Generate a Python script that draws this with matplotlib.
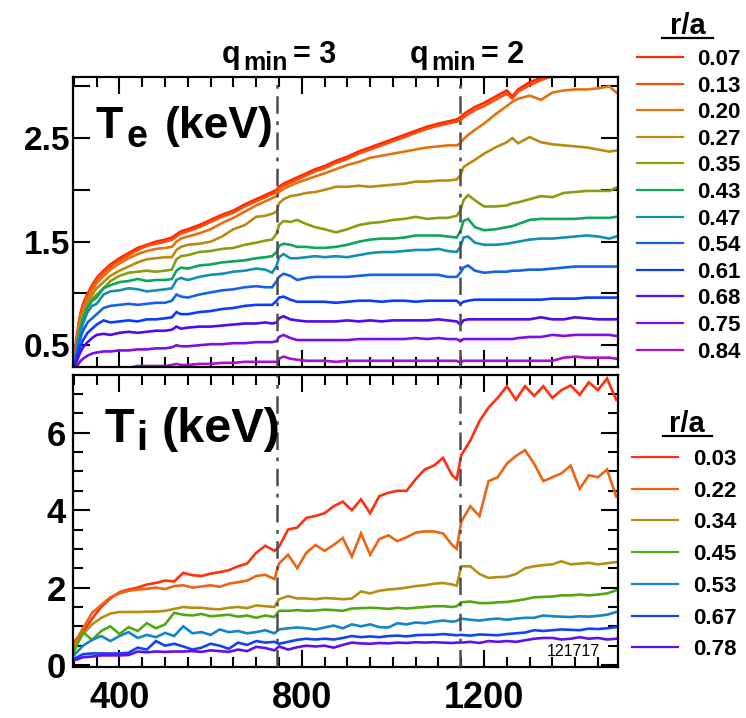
import numpy as np
import matplotlib.pyplot as plt
from matplotlib.lines import Line2D
from matplotlib.ticker import MultipleLocator, FixedLocator, FixedFormatter

plt.rcParams['font.family'] = ['Liberation Sans', 'DejaVu Sans']
plt.rcParams['font.weight'] = 'bold'

W, H = 746, 718

# ---- electron temperature (keV) vs time (ms) ----
t_te = [300, 305, 310, 315, 320, 330, 340, 350, 365, 380,
        400, 420, 440, 460, 480, 500, 515, 525, 535, 550,
        575, 600, 625, 650, 675, 700, 720, 735, 745, 750,
        760, 775, 790, 810, 830, 850, 875, 900, 925, 950,
        975, 1000, 1025, 1050, 1075, 1100, 1120, 1140, 1148, 1155,
        1165, 1180, 1200, 1225, 1250, 1262, 1275, 1300, 1325, 1350,
        1375, 1400, 1425, 1450, 1475, 1490]
nan = np.nan

te_007 = [0.35, 0.55, 0.70, 0.82, 0.90, 1.00, 1.08, 1.15, 1.22, 1.28,
          1.34, 1.39, 1.44, 1.47, 1.50, 1.52, 1.54, 1.57, 1.60, 1.62,
          1.66, 1.71, 1.76, 1.80, 1.86, 1.91, 1.95, 1.98, 2.00, 2.03,
          2.06, 2.09, 2.12, 2.16, 2.20, 2.23, 2.28, 2.32, 2.37, 2.41,
          2.45, 2.49, 2.53, 2.57, 2.61, 2.64, 2.66, 2.68, 2.70, 2.73,
          2.76, 2.80, 2.84, 2.90, 2.96, 2.90, 2.97, 3.04, 3.08, 3.11,
          3.15, nan, nan, nan, nan, nan]
te_013 = [0.34, 0.53, 0.68, 0.80, 0.88, 0.98, 1.06, 1.13, 1.20, 1.26,
          1.32, 1.37, 1.42, 1.46, 1.48, 1.50, 1.52, 1.55, 1.58, 1.60,
          1.64, 1.69, 1.74, 1.78, 1.84, 1.89, 1.93, 1.96, 1.98, 2.01,
          2.04, 2.07, 2.10, 2.14, 2.18, 2.21, 2.26, 2.30, 2.35, 2.39,
          2.43, 2.47, 2.51, 2.55, 2.59, 2.62, 2.64, 2.66, 2.67, 2.70,
          2.73, 2.77, 2.81, 2.87, 2.93, 2.88, 2.95, 3.01, 3.06, 3.10,
          3.14, nan, nan, nan, nan, nan]
te_020 = [0.33, 0.50, 0.65, 0.77, 0.85, 0.95, 1.03, 1.10, 1.17, 1.23,
          1.29, 1.34, 1.38, 1.41, 1.43, 1.44, 1.45, 1.50, 1.53, 1.55,
          1.58, 1.62, 1.68, 1.73, 1.79, 1.85, 1.89, 1.92, 1.94, 1.98,
          2.01, 2.04, 2.07, 2.10, 2.13, 2.16, 2.20, 2.24, 2.27, 2.31,
          2.33, 2.35, 2.37, 2.39, 2.41, 2.42, 2.43, 2.43, 2.45, 2.49,
          2.53, 2.58, 2.64, 2.73, 2.81, 2.85, 2.88, 2.91, 2.87, 2.94,
          2.96, 2.97, 2.97, 2.98, 3.00, 2.94]
te_027 = [0.32, 0.48, 0.62, 0.73, 0.81, 0.92, 0.99, 1.05, 1.11, 1.17,
          1.22, 1.26, 1.30, 1.33, 1.34, 1.35, 1.35, 1.42, 1.45, 1.47,
          1.48, 1.50, 1.55, 1.62, 1.66, 1.74, 1.75, 1.77, 1.79, 1.87,
          1.91, 1.94, 1.95, 1.97, 1.98, 2.00, 2.03, 2.03, 2.04, 2.03,
          2.04, 2.05, 2.06, 2.08, 2.08, 2.09, 2.09, 2.10, 2.14, 2.22,
          2.25, 2.29, 2.35, 2.41, 2.46, 2.50, 2.45, 2.51, 2.46, 2.44,
          2.43, 2.42, 2.41, 2.39, 2.37, 2.38]
te_035 = [0.31, 0.46, 0.60, 0.70, 0.78, 0.88, 0.95, 0.99, 1.05, 1.12,
          1.17, 1.20, 1.21, 1.22, 1.21, 1.22, 1.23, 1.33, 1.36, 1.37,
          1.40, 1.41, 1.43, 1.44, 1.47, 1.49, 1.51, 1.52, 1.58, 1.66,
          1.70, 1.69, 1.71, 1.67, 1.64, 1.62, 1.59, 1.62, 1.66, 1.68,
          1.69, 1.71, 1.72, 1.74, 1.72, 1.73, 1.73, 1.75, 1.80, 1.90,
          1.95, 1.90, 1.84, 1.84, 1.85, 1.87, 1.88, 1.91, 1.94, 1.93,
          1.97, 1.98, 1.99, 1.99, 1.99, 2.02]
te_043 = [0.30, 0.44, 0.57, 0.67, 0.75, 0.86, 0.93, 0.96, 1.05, 1.08,
          1.11, 1.12, 1.14, 1.12, 1.13, 1.13, 1.14, 1.22, 1.25, 1.24,
          1.27, 1.28, 1.30, 1.31, 1.32, 1.34, 1.35, 1.36, 1.40, 1.46,
          1.48, 1.47, 1.45, 1.45, 1.44, 1.44, 1.45, 1.47, 1.50, 1.52,
          1.53, 1.53, 1.54, 1.56, 1.56, 1.56, 1.55, 1.54, 1.60, 1.70,
          1.72, 1.64, 1.61, 1.62, 1.64, 1.65, 1.67, 1.71, 1.72, 1.72,
          1.72, 1.72, 1.73, 1.73, 1.73, 1.74]
te_047 = [0.29, 0.42, 0.54, 0.63, 0.71, 0.82, 0.88, 0.90, 0.99, 1.02,
          1.03, 1.05, 1.04, 1.02, 1.03, 1.04, 1.05, 1.13, 1.15, 1.13,
          1.16, 1.18, 1.19, 1.21, 1.22, 1.24, 1.23, 1.20, 1.27, 1.35,
          1.38, 1.34, 1.34, 1.35, 1.36, 1.35, 1.36, 1.35, 1.37, 1.39,
          1.40, 1.40, 1.41, 1.42, 1.42, 1.43, 1.41, 1.40, 1.45, 1.54,
          1.55, 1.49, 1.47, 1.47, 1.48, 1.49, 1.50, 1.52, 1.53, 1.53,
          1.54, 1.55, 1.56, 1.55, 1.53, 1.55]
te_054 = [0.28, 0.40, 0.50, 0.58, 0.64, 0.72, 0.76, 0.80, 0.86, 0.88,
          0.89, 0.90, 0.89, 0.90, 0.91, 0.91, 0.93, 0.99, 0.97, 0.96,
          0.99, 1.01, 1.03, 1.04, 1.06, 1.07, 1.06, 1.06, 1.12, 1.16,
          1.19, 1.17, 1.13, 1.15, 1.16, 1.16, 1.16, 1.16, 1.17, 1.18,
          1.18, 1.18, 1.18, 1.18, 1.18, 1.18, 1.16, 1.16, 1.20, 1.25,
          1.27, 1.22, 1.20, 1.21, 1.21, 1.22, 1.22, 1.23, 1.23, 1.24,
          1.25, 1.26, 1.26, 1.26, 1.26, 1.26]
te_061 = [0.27, 0.36, 0.44, 0.50, 0.55, 0.62, 0.66, 0.70, 0.74, 0.72,
          0.73, 0.74, 0.73, 0.75, 0.75, 0.76, 0.77, 0.82, 0.80, 0.80,
          0.82, 0.83, 0.85, 0.86, 0.88, 0.89, 0.89, 0.89, 0.93, 0.96,
          0.97, 0.94, 0.92, 0.92, 0.92, 0.92, 0.91, 0.92, 0.93, 0.93,
          0.92, 0.93, 0.93, 0.92, 0.93, 0.93, 0.93, 0.93, 0.90, 0.92,
          0.93, 0.94, 0.94, 0.94, 0.94, 0.94, 0.94, 0.94, 0.94, 0.95,
          0.95, 0.95, 0.96, 0.96, 0.96, 0.96]
te_068 = [0.26, 0.33, 0.39, 0.44, 0.48, 0.53, 0.57, 0.60, 0.61, 0.60,
          0.62, 0.63, 0.62, 0.63, 0.64, 0.64, 0.65, 0.68, 0.66, 0.67,
          0.68, 0.68, 0.69, 0.70, 0.71, 0.71, 0.72, 0.71, 0.72, 0.76,
          0.78, 0.75, 0.74, 0.73, 0.73, 0.73, 0.73, 0.74, 0.73, 0.74,
          0.73, 0.74, 0.74, 0.74, 0.74, 0.75, 0.74, 0.73, 0.70, 0.74,
          0.75, 0.75, 0.75, 0.75, 0.75, 0.75, 0.75, 0.75, 0.77, 0.75,
          0.75, 0.77, 0.76, 0.75, 0.75, 0.75]
te_075 = [0.25, 0.29, 0.32, 0.35, 0.37, 0.40, 0.42, 0.43, 0.44, 0.44,
          0.45, 0.45, 0.46, 0.46, 0.47, 0.47, 0.48, 0.50, 0.49, 0.49,
          0.50, 0.51, 0.51, 0.52, 0.52, 0.53, 0.53, 0.53, 0.54, 0.58,
          0.60, 0.57, 0.55, 0.55, 0.55, 0.55, 0.55, 0.55, 0.56, 0.56,
          0.56, 0.56, 0.56, 0.57, 0.56, 0.57, 0.56, 0.56, 0.54, 0.56,
          0.56, 0.56, 0.56, 0.56, 0.56, 0.56, 0.57, 0.58, 0.58, 0.60,
          0.59, 0.60, 0.60, 0.60, 0.60, 0.59]
te_084 = [0.20, 0.21, 0.22, 0.23, 0.23, 0.24, 0.25, 0.26, 0.27, 0.27,
          0.28, 0.28, 0.30, 0.30, 0.30, 0.30, 0.31, 0.32, 0.31, 0.31,
          0.32, 0.32, 0.33, 0.33, 0.34, 0.34, 0.34, 0.34, 0.34, 0.37,
          0.39, 0.37, 0.36, 0.35, 0.35, 0.35, 0.34, 0.35, 0.35, 0.35,
          0.35, 0.35, 0.35, 0.35, 0.35, 0.35, 0.35, 0.35, 0.33, 0.35,
          0.35, 0.35, 0.35, 0.35, 0.35, 0.35, 0.35, 0.35, 0.35, 0.35,
          0.38, 0.39, 0.38, 0.38, 0.38, 0.37]

te_labels = ['0.07', '0.13', '0.20', '0.27', '0.35', '0.43',
             '0.47', '0.54', '0.61', '0.68', '0.75', '0.84']
te_series = [te_007, te_013, te_020, te_027, te_035, te_043,
             te_047, te_054, te_061, te_068, te_075, te_084]
te_colors = ['#ff2800', '#ff4c0c', '#e27212', '#b98b12', '#8a9c10', '#0fa55a',
             '#128fb2', '#1462e6', '#0a3cff', '#5208f0', '#8010e0', '#a812c8']

# ---- ion temperature (keV) vs time (ms) ----
t_ti = [300, 320, 340, 360, 380, 400, 420, 440, 460, 480, 500, 520,
        540, 560, 580, 600, 620, 640, 660, 680, 700, 720, 740,
        750, 770, 790, 810, 830, 850, 870, 890, 910, 930, 950, 970,
        990, 1010, 1030, 1050, 1070, 1090, 1110, 1130, 1140,
        1150, 1170, 1190, 1210, 1230, 1250, 1270, 1290, 1310, 1330,
        1350, 1370, 1390, 1410, 1430, 1450, 1470, 1490]

ti_003 = [0.60, 0.85, 1.20, 1.50, 1.72, 1.88, 1.95, 2.00, 2.08, 2.12, 2.18, 2.16,
          2.38, 2.32, 2.30, 2.36, 2.40, 2.45, 2.55, 2.62, 2.90, 3.08, 2.95,
          3.05, 3.50, 3.55, 3.80, 3.85, 3.92, 4.10, 4.22, 4.00, 4.28, 3.92, 4.36,
          4.45, 4.50, 4.50, 4.80, 5.05, 5.15, 5.35, 4.90, 4.80,
          5.42, 5.80, 6.30, 6.65, 6.90, 7.20, 6.85, 7.20, 6.95, 7.20,
          6.90, 7.10, 7.22, 6.98, 7.30, 7.10, 7.40, 6.85]
ti_022 = [0.55, 0.95, 1.35, 1.55, 1.75, 1.85, 1.92, 1.95, 1.97, 2.00, 1.96, 2.04,
          2.06, 2.00, 2.03, 2.06, 2.02, 2.10, 2.14, 2.18, 2.30, 2.33, 2.22,
          2.62, 2.85, 2.50, 2.90, 3.10, 2.95, 3.10, 3.28, 2.80, 3.40, 2.85, 3.25,
          3.35, 3.20, 3.30, 3.42, 3.45, 3.45, 3.40, 3.10, 3.00,
          3.70, 4.10, 3.85, 4.75, 4.85, 5.20, 5.40, 5.55, 5.20, 4.75,
          4.85, 4.95, 5.15, 4.55, 4.90, 4.85, 5.05, 4.35]
ti_034 = [0.45, 0.80, 1.05, 1.22, 1.33, 1.37, 1.37, 1.37, 1.38, 1.38, 1.40, 1.45,
          1.50, 1.48, 1.48, 1.45, 1.44, 1.48, 1.50, 1.47, 1.54, 1.52, 1.50,
          1.70, 1.78, 1.72, 1.72, 1.70, 1.73, 1.72, 1.70, 1.72, 1.90, 1.85, 1.92,
          1.95, 1.97, 2.00, 2.04, 2.06, 2.10, 2.12, 2.08, 2.05,
          2.55, 2.55, 2.35, 2.25, 2.27, 2.28, 2.35, 2.50, 2.55, 2.58,
          2.60, 2.68, 2.60, 2.62, 2.64, 2.60, 2.63, 2.66]
ti_045 = [0.34, 0.85, 0.65, 0.88, 1.00, 0.80, 0.98, 0.88, 1.08, 0.95, 1.05, 1.35,
          1.30, 1.28, 1.32, 1.26, 1.28, 1.30, 1.25, 1.28, 1.22, 1.28, 1.24,
          1.40, 1.40, 1.42, 1.40, 1.41, 1.43, 1.42, 1.40, 1.46, 1.47, 1.48, 1.47,
          1.45, 1.48, 1.46, 1.48, 1.50, 1.52, 1.52, 1.50, 1.52,
          1.62, 1.64, 1.60, 1.60, 1.62, 1.63, 1.66, 1.70, 1.75, 1.76,
          1.77, 1.80, 1.80, 1.82, 1.80, 1.82, 1.85, 1.93]
ti_053 = [0.25, 0.50, 0.65, 0.75, 0.62, 0.75, 0.85, 0.70, 0.78, 0.72, 0.83, 0.75,
          1.00, 0.82, 0.85, 0.78, 0.92, 0.85, 0.88, 0.82, 0.85, 0.90, 0.82,
          0.92, 0.95, 0.97, 0.95, 0.92, 0.97, 1.02, 0.95, 1.05, 1.00, 1.05, 0.98,
          0.97, 1.08, 1.05, 1.10, 1.08, 1.12, 1.15, 1.12, 1.14,
          1.20, 1.17, 1.15, 1.18, 1.20, 1.17, 1.20, 1.22, 1.22, 1.28,
          1.26, 1.25, 1.24, 1.26, 1.25, 1.27, 1.30, 1.37]
ti_067 = [0.16, 0.28, 0.30, 0.30, 0.30, 0.30, 0.32, 0.45, 0.40, 0.62, 0.50, 0.55,
          0.48, 0.40, 0.45, 0.55, 0.50, 0.42, 0.58, 0.52, 0.62, 0.58, 0.60,
          0.55, 0.60, 0.65, 0.68, 0.66, 0.68, 0.66, 0.70, 0.75, 0.72, 0.74, 0.72,
          0.75, 0.76, 0.74, 0.77, 0.78, 0.78, 0.80, 0.78, 0.77,
          0.78, 0.76, 0.79, 0.78, 0.77, 0.80, 0.82, 0.84, 0.90, 0.88,
          0.90, 0.92, 0.91, 0.90, 0.94, 0.93, 0.95, 0.98]
ti_078 = [0.12, 0.20, 0.22, 0.25, 0.25, 0.25, 0.26, 0.35, 0.33, 0.35, 0.34, 0.35,
          0.35, 0.36, 0.34, 0.38, 0.36, 0.34, 0.40, 0.36, 0.47, 0.44, 0.38,
          0.48, 0.40, 0.46, 0.50, 0.48, 0.50, 0.45, 0.52, 0.58, 0.56, 0.55, 0.57,
          0.56, 0.58, 0.57, 0.59, 0.58, 0.59, 0.58, 0.57, 0.58,
          0.58, 0.60, 0.57, 0.62, 0.60, 0.62, 0.60, 0.64, 0.68, 0.70,
          0.70, 0.66, 0.68, 0.72, 0.68, 0.70, 0.66, 0.68]

ti_labels = ['0.03', '0.22', '0.34', '0.45', '0.53', '0.67', '0.78']
ti_series = [ti_003, ti_022, ti_034, ti_045, ti_053, ti_067, ti_078]
ti_colors = ['#ff3010', '#ec6414', '#b58e14', '#52a812', '#1585c8', '#1244f0', '#6010f0']

q_events = [745, 1148]


def fx(x):
    return x / W


def fy(y):
    return 1 - y / H


fig = plt.figure(figsize=(W / 100, H / 100), dpi=100)
ax1 = fig.add_axes([fx(73), fy(367), (618 - 73) / W, (367 - 77) / H])
ax2 = fig.add_axes([fx(73), fy(667), (618 - 73) / W, (667 - 375) / H])

for t, series, colors, ax in [(t_te, te_series, te_colors, ax1),
                              (t_ti, ti_series, ti_colors, ax2)]:
    for vals, c in zip(series, colors):
        ax.plot(t, vals, color=c, lw=1.9, solid_joinstyle='miter')
    for tq in q_events:
        ax.axvline(tq, color='#4d4d4d', lw=1.8, ls=(0, (7, 3, 1.5, 3)), zorder=5)
    ax.set_xlim(298, 1494)
    ax.xaxis.set_major_locator(FixedLocator([400, 800, 1200]))
    ax.xaxis.set_minor_locator(MultipleLocator(50))
    ax.tick_params(which='both', direction='in', top=True, right=True, width=1.5)
    ax.tick_params(which='major', length=12)
    ax.tick_params(which='minor', length=7)
    for sp in ax.spines.values():
        sp.set_linewidth(1.6)

ax1.set_ylim(0.29, 3.09)
ax1.yaxis.set_major_locator(FixedLocator([0.5, 1.0, 1.5, 2.0, 2.5, 3.0]))
ax1.yaxis.set_major_formatter(FixedFormatter(['0.5', '', '1.5', '', '2.5', '']))
ax1.tick_params(axis='y', labelsize=24, pad=2)
ax1.tick_params(axis='x', labelbottom=False)

ax2.set_ylim(-0.05, 7.49)
ax2.yaxis.set_major_locator(MultipleLocator(2))
ax2.yaxis.set_minor_locator(MultipleLocator(0.5))
ax2.tick_params(axis='y', labelsize=25, pad=5)
ax2.tick_params(axis='x', labelsize=26, pad=10)

# panel titles
fig.text(fx(95), fy(138), 'T', fontsize=32, va='baseline')
fig.text(fx(127), fy(147), 'e', fontsize=27, va='baseline')
fig.text(fx(165), fy(138), '(keV)', fontsize=32, va='baseline')

fig.text(fx(104), fy(442), 'T', fontsize=35, va='baseline')
fig.text(fx(136), fy(450), 'i', fontsize=29, va='baseline')
fig.text(fx(162), fy(442), '(keV)', fontsize=35, va='baseline')

# q_min markers
for x0, num in [(222, '3'), (410, '2')]:
    fig.text(fx(x0), fy(63), 'q', fontsize=22, va='baseline')
    fig.text(fx(x0 + 21), fy(70), 'min', fontsize=18, va='baseline')
    fig.text(fx(x0 + 71), fy(63), '= ' + num, fontsize=22, va='baseline')

# legends
def draw_key(labels, colors, x_line, x_text, y0, dy, head_y, head_x, ul):
    fig.text(fx(head_x), fy(head_y), 'r/a', fontsize=21, ha='center', va='baseline')
    fig.add_artist(Line2D([fx(ul[0]), fx(ul[1])], [fy(ul[2]), fy(ul[2])],
                          color='black', lw=1.6))
    for i, (lab, c) in enumerate(zip(labels, colors)):
        y = y0 + i * dy
        fig.add_artist(Line2D([fx(x_line[0]), fx(x_line[1])], [fy(y), fy(y)],
                              color=c, lw=1.6))
        fig.text(fx(x_text), fy(y), lab, fontsize=16, va='center_baseline')


draw_key(te_labels, te_colors, (637, 683), 697, 57, 26.6, 34, 688, (662, 713, 38))
draw_key(ti_labels, ti_colors, (632, 678), 693, 457, 31.7, 432, 687, (663, 712, 436))

fig.text(fx(600), fy(651), '121717', fontsize=11.5, fontweight='normal',
         ha='right', va='center')

fig.savefig('out.png', dpi=100)
